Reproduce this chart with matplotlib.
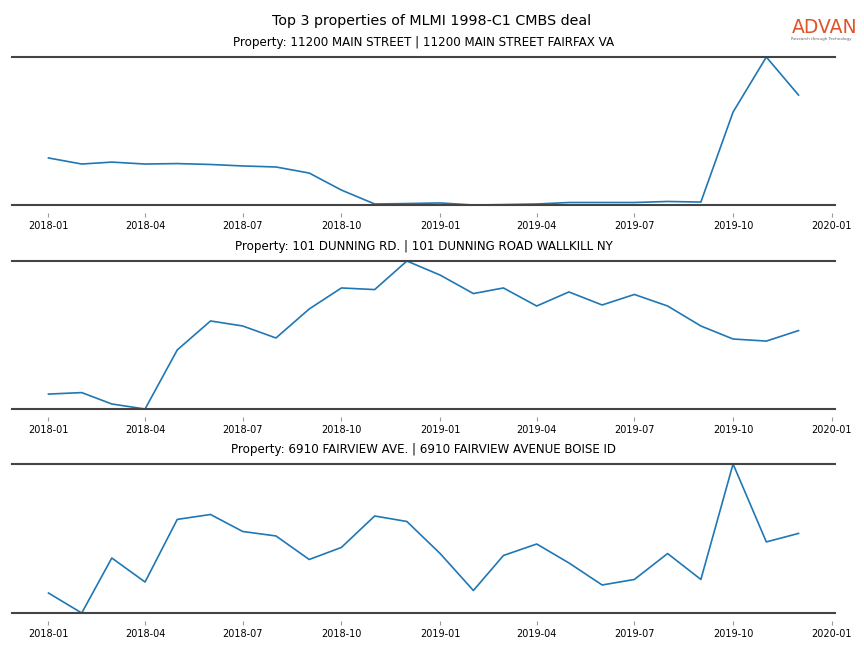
import numpy as np
import pandas as pd
import matplotlib
matplotlib.use("Agg")
import matplotlib.pyplot as plt
import matplotlib.dates as mdates

months = pd.date_range("2018-01-01", "2019-12-01", freq="MS")

titles = [
    "Property: 11200 MAIN STREET | 11200 MAIN STREET FAIRFAX VA",
    "Property: 101 DUNNING RD. | 101 DUNNING ROAD WALLKILL NY",
    "Property: 6910 FAIRVIEW AVE. | 6910 FAIRVIEW AVENUE BOISE ID",
]

# monthly visits (relative scale)
fairfax = [318, 277, 290, 277, 280, 274, 264, 257, 216, 101, 7, 10,
           14, 0, 3, 7, 17, 17, 17, 24, 20, 628, 1000, 743]
wallkill = [101, 111, 34, 0, 399, 595, 561, 480, 676, 818, 807, 1000,
            905, 780, 818, 696, 791, 703, 774, 696, 561, 473, 459, 530]
boise = [134, 0, 369, 208, 628, 661, 547, 517, 359, 440, 651, 614,
         399, 151, 386, 463, 336, 188, 225, 399, 225, 1000, 477, 534]

series = [fairfax, wallkill, boise]

fig = plt.figure(figsize=(8.64, 6.48), dpi=100)
fig.suptitle("Top 3 properties of MLMI 1998-C1 CMBS deal", fontsize=10.3, y=0.979)

boxes = [(0.912, 0.6836), (0.5972, 0.3688), (0.284, 0.054)]
left, right = 12 / 864, 835 / 864

for (top, bottom), vals, t in zip(boxes, series, titles):
    ax = fig.add_axes([left, bottom, right - left, top - bottom])
    ax.plot(months, vals, color="#1f77b4", linewidth=1.2)
    ax.set_title(t, fontsize=8.6, pad=8)
    ax.set_ylim(min(vals), max(vals))
    ax.set_xlim(pd.Timestamp("2017-11-28"), pd.Timestamp("2020-01-04"))
    ax.axhline(max(vals), color="#444444", linewidth=1.5, clip_on=False)
    ax.axhline(min(vals), color="#444444", linewidth=1.5, clip_on=False)
    ax.xaxis.set_major_locator(mdates.MonthLocator(bymonth=[1, 4, 7, 10]))
    ax.xaxis.set_major_formatter(mdates.DateFormatter("%Y-%m"))
    ax.tick_params(axis="x", labelsize=7, length=3, color="#999999", pad=2.5)
    ax.set_yticks([])
    for s in ax.spines.values():
        s.set_visible(False)
    ax.spines["bottom"].set_position(("outward", 6))

# logo
fig.text(0.916, 0.957, "ADVAN", color="#e0542c", fontsize=13.5, ha="left", va="center")
fig.text(0.916, 0.940, "Research through Technology", color="#666666", fontsize=3, ha="left", va="center")

plt.savefig("out.png", dpi=100)
